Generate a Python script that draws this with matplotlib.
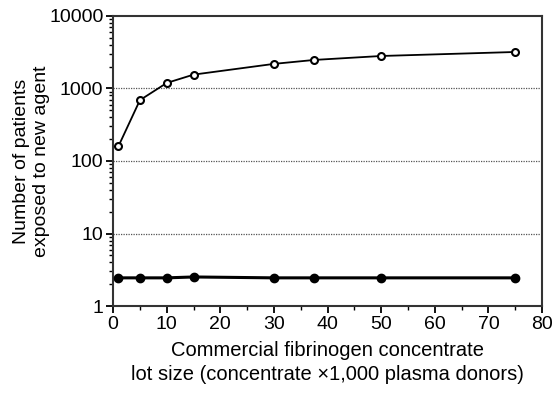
import matplotlib
matplotlib.use("Agg")
import matplotlib.pyplot as plt
from matplotlib.ticker import LogLocator, NullFormatter, MultipleLocator

plt.rcParams['font.family'] = ['Liberation Sans', 'DejaVu Sans']

lot_size = [1, 5, 10, 15, 30, 37.5, 50, 75]
exposed_new = [160, 690, 1190, 1550, 2180, 2470, 2800, 3180]
exposed_old = [2.45, 2.45, 2.45, 2.52, 2.45, 2.45, 2.45, 2.45]

fig = plt.figure(figsize=(5.6, 3.97), dpi=100)
ax = fig.add_axes([0.202, 0.229, 0.766, 0.731])

ax.plot(lot_size, exposed_new, color='black', lw=1.3, marker='o', ms=5,
        mfc='white', mec='black', mew=1.5, zorder=3)
ax.plot(lot_size, exposed_old, color='black', lw=2.2, marker='o', ms=6,
        mfc='black', mec='black', zorder=3)

ax.set_yscale('log')
ax.set_ylim(1, 10000)
ax.set_xlim(0, 80)
ax.set_yticks([1, 10, 100, 1000, 10000])
ax.set_yticklabels(['1', '10', '100', '1000', '10000'])
ax.yaxis.set_minor_locator(LogLocator(base=10, subs=range(2, 10)))
ax.yaxis.set_minor_formatter(NullFormatter())
ax.xaxis.set_major_locator(MultipleLocator(10))
ax.xaxis.set_minor_locator(MultipleLocator(5))

for g in [10, 100, 1000]:
    ax.axhline(g, color='#555555', lw=0.9, ls=(0, (1, 1)), zorder=1)

for s in ax.spines.values():
    s.set_linewidth(1.5)
    s.set_color('#333333')

ax.tick_params(axis='both', which='major', direction='out', length=5, width=1.3,
               labelsize=14, pad=2)
ax.tick_params(axis='both', which='minor', direction='out', length=3, width=1.0)

ax.set_ylabel('Number of patients\nexposed to new agent', fontsize=14, linespacing=1.3,
              labelpad=-1)
ax.set_xlabel('Commercial fibrinogen concentrate\nlot size (concentrate \u00d71,000 plasma donors)',
              fontsize=14.5, linespacing=1.35, labelpad=6)

fig.savefig('out.png', dpi=100)
